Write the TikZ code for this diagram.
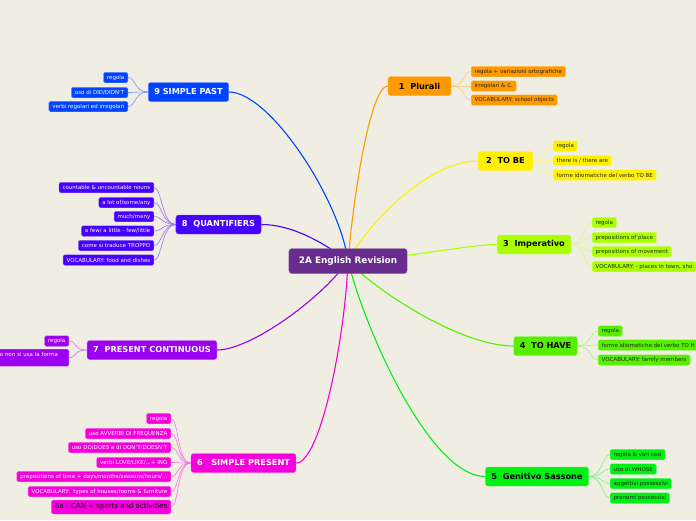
\documentclass[tikz,border=0pt]{standalone}
\usepackage{fontspec}
\setmainfont{DejaVu Sans}
\usetikzlibrary{backgrounds}

\definecolor{bgcol}{RGB}{240,238,226}
\definecolor{rootcol}{RGB}{104,44,142}
\definecolor{col1}{RGB}{255,153,0}
\definecolor{col2}{RGB}{255,240,0}
\definecolor{col3}{RGB}{170,255,0}
\definecolor{col4}{RGB}{85,240,0}
\definecolor{col5}{RGB}{0,240,20}
\definecolor{col6}{RGB}{245,0,220}
\definecolor{col7}{RGB}{155,0,240}
\definecolor{col8}{RGB}{70,0,255}
\definecolor{col9}{RGB}{0,68,255}

\tikzset{
  root/.style={rounded corners=3pt, fill=rootcol, draw=rootcol!70!white, text=white, font=\fontsize{8.9}{10}\selectfont\bfseries, minimum height=25pt, inner xsep=10pt, inner ysep=0pt},
  topic/.style={rounded corners=2.5pt, fill=#1, draw=#1!70!white, text=black, font=\fontsize{8.2}{9}\selectfont\bfseries, minimum height=19pt, inner xsep=6pt, inner ysep=0pt},
  leaf/.style={rounded corners=1.5pt, fill=#1, draw=#1!60!white, line width=0.4pt, text=black!85, font=\fontsize{5.5}{6}\selectfont, minimum height=10.5pt, inner xsep=3.5pt, inner ysep=0pt},
  branch/.style={draw=#1, line width=1.1pt},
  twig/.style={draw=#1!55!white, line width=0.6pt},
}

\begin{document}
\begin{tikzpicture}[x=1pt,y=-1pt]
\useasboundingbox (0,0) rectangle (696,520);

\node[root](rev) at (348,261) {2A English Revision};

% topics
\node[topic=col1, minimum width=63pt](plur) at (419.5,86) {1\ \ Plurali};
\node[topic=col2, minimum width=55pt](tobe) at (505.5,161) {2\ \ TO BE};
\node[topic=col3](imp) at (534,244.5) {3\ \ Imperativo};
\node[topic=col4](have) at (545.5,346) {4\ \ TO HAVE};
\node[topic=col5](gen) at (537,476.5) {5\ \ Genitivo Sassone};
\node[topic=col6, text=white](spres) at (243.5,463) {6\ \ \ SIMPLE PRESENT};
\node[topic=col7, text=white](pcont) at (152,350) {7\ \ PRESENT CONTINUOUS};
\node[topic=col8, text=white](quant) at (218.5,224.5) {8\ \ QUANTIFIERS};
\node[topic=col9, text=white](spast) at (188.5,92) {9 SIMPLE PAST};

% 1
\node[leaf=col1, anchor=west](plur1) at (471,71.5) {regola + variazioni ortografiche};
\node[leaf=col1, anchor=west](plur2) at (471,86) {irregolari \& C.};
\node[leaf=col1, anchor=west](plur3) at (471,100) {VOCABULARY: school objects};
% 2
\node[leaf=col2, anchor=west](tobe1) at (553,146) {regola};
\node[leaf=col2, anchor=west](tobe2) at (553,160.5) {there is / there are};
\node[leaf=col2, anchor=west](tobe3) at (553,175) {forme idiomatiche del verbo TO BE};
% 3
\node[leaf=col3, anchor=west](imp1) at (592,222.5) {regola};
\node[leaf=col3, anchor=west](imp2) at (592,237.5) {prepositions of place};
\node[leaf=col3, anchor=west](imp3) at (592,251.5) {prepositions of movement};
\node[leaf=col3, anchor=west](imp4) at (592,266.5) {VOCABULARY: - places in town, sho};
% 4
\node[leaf=col4, anchor=west](have1) at (598,331) {regola};
\node[leaf=col4, anchor=west](have2) at (598,345) {forme idiomatiche del verbo TO H};
\node[leaf=col4, anchor=west](have3) at (598,360) {VOCABULARY: family members};
% 5
\node[leaf=col5, anchor=west](gen1) at (610,454.5) {regola \& vari casi};
\node[leaf=col5, anchor=west](gen2) at (610,469) {uso di WHOSE};
\node[leaf=col5, anchor=west](gen3) at (610,483.5) {aggettivi possessivi};
\node[leaf=col5, anchor=west](gen4) at (610,498) {pronomi possessivi};
% 6
\node[leaf=col6, text=white, anchor=east](spres1) at (171,418.5) {regola};
\node[leaf=col6, text=white, anchor=east](spres2) at (171,433.5) {uso AVVERBI DI FREQUENZA};
\node[leaf=col6, text=white, anchor=east](spres3) at (171,447.5) {uso DO/DOES e di DON'T/DOESN'T};
\node[leaf=col6, text=white, anchor=east](spres4) at (171,462.5) {verbi LOVE/LIKE/...+ ING};
\node[leaf=col6, text=white, anchor=east](spres5) at (171,476.5) {prepositions of time + days/months/seasons/hours/...};
\node[leaf=col6, text=white, anchor=east](spres6) at (171,491.5) {VOCABULARY:\ \ types of houses/rooms \& furniture};
\node[leaf=col6, text=black, anchor=east, font=\fontsize{7}{8}\selectfont, minimum height=14pt](spres7) at (171,507) {6a : CAN + sports and activities};
% 7
\node[leaf=col7, text=white, anchor=east](pcont1) at (69,341) {regola};
\node[leaf=col7, text=white, anchor=north east, text width=65.5pt, align=left, text height=7pt, text depth=10pt](pcont2) at (69,349) {o non si usa la forma};
% 8
\node[leaf=col8, text=white, anchor=east](quant1) at (154,187.5) {countable \& uncountable nouns};
\node[leaf=col8, text=white, anchor=east](quant2) at (154,202.5) {a lot of/some/any};
\node[leaf=col8, text=white, anchor=east](quant3) at (154,216.5) {much/many};
\node[leaf=col8, text=white, anchor=east](quant4) at (154,231) {a few/ a little - few/little};
\node[leaf=col8, text=white, anchor=east](quant5) at (154,245.5) {come si traduce TROPPO};
\node[leaf=col8, text=white, anchor=east](quant6) at (154,260) {VOCABULARY: food and dishes};
% 9
\node[leaf=col9, text=white, anchor=east](spast1) at (128,77.5) {regola};
\node[leaf=col9, text=white, anchor=east](spast2) at (128,92.5) {uso di DID/DIDN'T};
\node[leaf=col9, text=white, anchor=east](spast3) at (128,106.5) {verbi regolari ed irregolari};

\begin{scope}[on background layer]
\fill[bgcol] (0,0) rectangle (696,520);

\draw[branch=col1] (rev.center) .. controls (355,180) and (372,86) .. (plur.west);
\draw[branch=col2] (rev.center) .. controls (370,220) and (430,161) .. (tobe.west);
\draw[branch=col3] (rev.center) .. controls (420,256) and (470,244.5) .. (imp.west);
\draw[branch=col4] (rev.center) .. controls (375,290) and (460,346) .. (have.west);
\draw[branch=col5] (rev.center) .. controls (365,330) and (430,476.5) .. (gen.west);
\draw[branch=col6] (rev.center) .. controls (345,340) and (320,463) .. (spres.east);
\draw[branch=col7] (rev.center) .. controls (320,300) and (250,350) .. (pcont.east);
\draw[branch=col8] (rev.center) .. controls (320,240) and (290,224.5) .. (quant.east);
\draw[branch=col9] (rev.center) .. controls (340,200) and (270,92) .. (spast.east);

\draw[twig=col1] (plur.east) .. controls +(14,0) and +(-8,0) .. (plur1.west);
\draw[twig=col1] (plur.east) .. controls +(14,0) and +(-8,0) .. (plur2.west);
\draw[twig=col1] (plur.east) .. controls +(14,0) and +(-8,0) .. (plur3.west);

\draw[twig=col2] (tobe.east) .. controls +(14,0) and +(-8,0) .. (tobe1.west);
\draw[twig=col2] (tobe.east) .. controls +(14,0) and +(-8,0) .. (tobe2.west);
\draw[twig=col2] (tobe.east) .. controls +(14,0) and +(-8,0) .. (tobe3.west);

\draw[twig=col3] (imp.east) .. controls +(14,0) and +(-8,0) .. (imp1.west);
\draw[twig=col3] (imp.east) .. controls +(14,0) and +(-8,0) .. (imp2.west);
\draw[twig=col3] (imp.east) .. controls +(14,0) and +(-8,0) .. (imp3.west);
\draw[twig=col3] (imp.east) .. controls +(14,0) and +(-8,0) .. (imp4.west);

\draw[twig=col4] (have.east) .. controls +(14,0) and +(-8,0) .. (have1.west);
\draw[twig=col4] (have.east) .. controls +(14,0) and +(-8,0) .. (have2.west);
\draw[twig=col4] (have.east) .. controls +(14,0) and +(-8,0) .. (have3.west);

\draw[twig=col5] (gen.east) .. controls +(14,0) and +(-8,0) .. (gen1.west);
\draw[twig=col5] (gen.east) .. controls +(14,0) and +(-8,0) .. (gen2.west);
\draw[twig=col5] (gen.east) .. controls +(14,0) and +(-8,0) .. (gen3.west);
\draw[twig=col5] (gen.east) .. controls +(14,0) and +(-8,0) .. (gen4.west);

\draw[twig=col6] (spres.west) .. controls +(-14,0) and +(8,0) .. (spres1.east);
\draw[twig=col6] (spres.west) .. controls +(-14,0) and +(8,0) .. (spres2.east);
\draw[twig=col6] (spres.west) .. controls +(-14,0) and +(8,0) .. (spres3.east);
\draw[twig=col6] (spres.west) .. controls +(-14,0) and +(8,0) .. (spres4.east);
\draw[twig=col6] (spres.west) .. controls +(-14,0) and +(8,0) .. (spres5.east);
\draw[twig=col6] (spres.west) .. controls +(-14,0) and +(8,0) .. (spres6.east);
\draw[twig=col6] (spres.west) .. controls +(-14,0) and +(8,0) .. (spres7.east);

\draw[twig=col7] (pcont.west) .. controls +(-14,0) and +(8,0) .. (pcont1.east);
\draw[twig=col7] (pcont.west) .. controls +(-14,0) and +(8,0) .. (pcont2.east);

\draw[twig=col8] (quant.west) .. controls +(-14,0) and +(8,0) .. (quant1.east);
\draw[twig=col8] (quant.west) .. controls +(-14,0) and +(8,0) .. (quant2.east);
\draw[twig=col8] (quant.west) .. controls +(-14,0) and +(8,0) .. (quant3.east);
\draw[twig=col8] (quant.west) .. controls +(-14,0) and +(8,0) .. (quant4.east);
\draw[twig=col8] (quant.west) .. controls +(-14,0) and +(8,0) .. (quant5.east);
\draw[twig=col8] (quant.west) .. controls +(-14,0) and +(8,0) .. (quant6.east);

\draw[twig=col9] (spast.west) .. controls +(-14,0) and +(8,0) .. (spast1.east);
\draw[twig=col9] (spast.west) .. controls +(-14,0) and +(8,0) .. (spast2.east);
\draw[twig=col9] (spast.west) .. controls +(-14,0) and +(8,0) .. (spast3.east);
\end{scope}

\end{tikzpicture}
\end{document}
